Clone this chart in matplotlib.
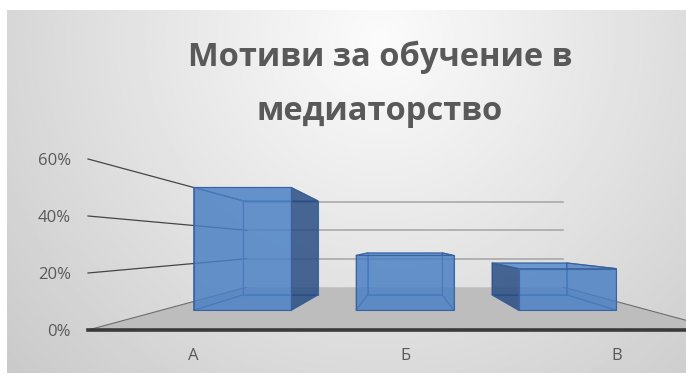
import numpy as np
import matplotlib
matplotlib.use('Agg')
import matplotlib.pyplot as plt
from mpl_toolkits.mplot3d import proj3d
from mpl_toolkits.mplot3d.art3d import Poly3DCollection

# ---------------- data ----------------
categories = ['А', 'Б', 'В']
values = [0.56, 0.25, 0.19]
tick_values = [0.0, 0.2, 0.4, 0.6]
tick_labels = ['0%', '20%', '40%', '60%']
title_lines = ['Мотиви за обучение в', 'медиаторство']

W, H = 686, 378
plt.rcParams['font.family'] = ['Open Sans', 'DejaVu Sans']
fig = plt.figure(figsize=(W / 100, H / 100), dpi=100)
fig.patch.set_facecolor('white')

# ---------------- background gradient panel ----------------
bg = fig.add_axes([7 / W, 5 / H, 1 - 7 / W, (H - 15) / H])
bg.set_axis_off()
bg.set_xticks([])
bg.set_yticks([])
gx = np.linspace(0, 1, 400)
gy = np.linspace(0, 1, 250)
GX, GY = np.meshgrid(gx, gy)
r = np.sqrt(((GX - 0.55) / 0.65) ** 2 + ((GY - 0.92) / 1.2) ** 2)
G = np.clip(0.985 - 0.17 * r, 0, 1)
bg.imshow(G, cmap='gray', vmin=0, vmax=1, origin='lower', extent=[0, 1, 0, 1],
          aspect='auto', interpolation='bilinear')
bg.set_xlim(0, 1)
bg.set_ylim(0, 1)

# ---------------- 3D axes ----------------
ax = fig.add_axes([0, 0, 1, 1], projection='3d')
ax.set_axis_off()
ax.patch.set_visible(False)
ax.computed_zorder = False
n = len(categories)
zmax = tick_values[-1]
try:
    ax.set_xlim(0, n, view_margin=0)
    ax.set_ylim(0, 1, view_margin=0)
    ax.set_zlim(0, zmax, view_margin=0)
except TypeError:
    ax.set_xlim(0, n)
    ax.set_ylim(0, 1)
    ax.set_zlim(0, zmax)
ax.set_xticks([])
ax.set_yticks([])
ax.set_zticks([])
for a in (bg, ax):
    for t in (a.title, a._left_title, a._right_title):
        t.set_visible(False)
for axis in (ax.xaxis, ax.yaxis, ax.zaxis):
    axis.label.set_visible(False)
    axis.offsetText.set_visible(False)
    axis.set_visible(False)
ax.set_box_aspect((n * 211.3, 300, zmax * 285))
depth = ax._box_aspect[1]
ax.view_init(elev=0, azim=-90, roll=0)
ax.set_proj_type('persp', focal_length=0.15 * depth)

# floor
floor = Poly3DCollection([[(0, 0, 0), (n, 0, 0), (n, 1, 0), (0, 1, 0)]],
                         facecolors='#bdbdbd', edgecolors='none', zorder=1)
floor.set_clip_on(False)
ax.add_collection3d(floor)
ax.plot([0, 0], [0, 1], [0, 0], color='#6e6e6e', lw=0.8, zorder=2, clip_on=False)
ax.plot([n, n], [0, 1], [0, 0], color='#6e6e6e', lw=0.8, zorder=2, clip_on=False)

# gridlines: back wall and left wall
for t in tick_values[1:]:
    ax.plot([0, n], [1, 1], [t, t], color='#a9a9a9', lw=1.2, zorder=2, clip_on=False)
    ax.plot([0, 0], [0, 1], [t, t], color='#454545', lw=0.9, zorder=2, clip_on=False)

# front edge of floor
ax.plot([0, n], [0, 0], [0, 0], color='#3a3a3a', lw=2.6, zorder=6, clip_on=False)

# bars
bw, by0, bdy = 0.6, 0.3, 0.4
eye_x, eye_z = n / 2, zmax / 2
front_c = (0.29, 0.50, 0.77)
top_c = (0.33, 0.54, 0.80)
side_c = (0.15, 0.29, 0.50)
xs, ys, zs, dxs, dys, dzs, fcols = [], [], [], [], [], [], []
for i, v in enumerate(values):
    x0 = i + (1 - bw) / 2
    xs.append(x0); ys.append(by0); zs.append(0)
    dxs.append(bw); dys.append(bdy); dzs.append(v)
    hid = 0.08
    vis = 0.82
    bottom = (*front_c, hid)
    top = (*top_c, vis if v < eye_z else hid)
    front = (*front_c, vis)
    back = (*front_c, hid)
    left = (*side_c, vis if x0 > eye_x else hid)
    right = (*side_c, vis if x0 + bw < eye_x else hid)
    fcols += [bottom, top, front, back, left, right]
bars = ax.bar3d(xs, ys, zs, dxs, dys, dzs, color=fcols, shade=False,
                edgecolor=(0.22, 0.38, 0.62, 0.9), linewidth=0.8, zorder=3)
bars.set_clip_on(False)

# labels
for t, lab in zip(tick_values, tick_labels):
    ax.text(-0.08, 0, t - 0.007, lab, ha='right', va='center', fontsize=12,
            color='#595959', zorder=7)
for i, cat in enumerate(categories):
    ax.text(i + 0.5, 0, -0.092, cat, ha='center', va='center', fontsize=12,
            color='#595959', zorder=7)

# title
fig.text(380 / W, 1 - 66 / H, title_lines[0], ha='center', va='baseline',
         fontsize=23.5, fontweight='bold', color='#595959')
fig.text(380 / W, 1 - 120 / H, title_lines[1], ha='center', va='baseline',
         fontsize=23.5, fontweight='bold', color='#595959')

# ---------------- fit the 3D axes so the front plane sits where it should ----------------
fig.canvas.draw()
pts = [(0, 0, 0), (n, 0, 0), (0, 0, zmax)]
targets = [(88, H - 330), (88 + 634, H - 330), (88, H - 159)]
M = ax.get_proj()
bb = ax.bbox
cx, cy, S = (bb.x0 + bb.x1) / 2, (bb.y0 + bb.y1) / 2, bb.width
A, b = [], []
for p, tg in zip(pts, targets):
    x2, y2, _ = proj3d.proj_transform(p[0], p[1], p[2], M)
    d = ax.transData.transform((x2, y2))
    nx, ny = (d[0] - cx) / S, (d[1] - cy) / S
    A.append([1, 0, nx]); b.append(tg[0])
    A.append([0, 1, ny]); b.append(tg[1])
sol = np.linalg.lstsq(np.array(A, float), np.array(b, float), rcond=None)[0]
ncx, ncy, nS = sol
ax.set_position([(ncx - nS / 2) / W, (ncy - nS / 2) / H, nS / W, nS / H])

fig.savefig('out.png', dpi=100)
